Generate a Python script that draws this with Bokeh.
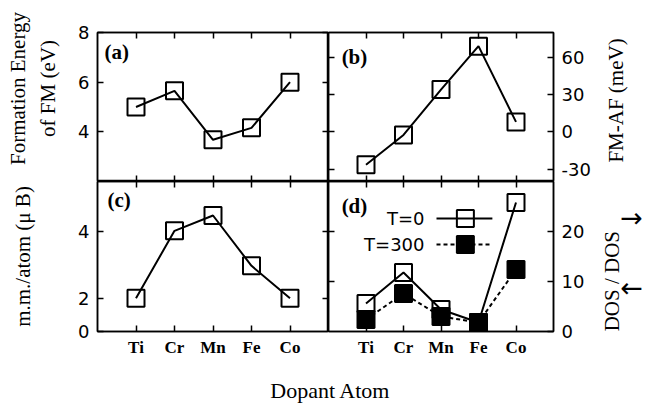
import math
from bokeh.plotting import figure
from bokeh.models import (Range1d, FixedTicker, LinearAxis, Label, ColumnDataSource)
from bokeh.layouts import column, row
from bokeh.embed import file_html
from bokeh.resources import INLINE

# ---------------- data ----------------
dopants = ["Ti", "Cr", "Mn", "Fe", "Co"]
xpos = [1, 2, 3, 4, 5]
formation_energy = [5.0, 5.65, 3.68, 4.16, 6.0]        # (a) eV
fm_af = [-26.5, -2.5, 34.0, 69.0, 8.0]                  # (b) meV
moment = [2.0, 4.02, 4.48, 2.97, 2.0]                   # (c) mu_B
dos_t0 = [5.6, 11.8, 4.4, 1.8, 25.8]                    # (d) T=0
dos_t300 = [2.4, 7.6, 3.0, 1.8, 12.4]                   # (d) T=300

yticks_a = [4, 6, 8]
yticks_b = [-30, 0, 30, 60]
yticks_b_labels = {-30: "-30"}
yticks_c = [1, 2, 4]
yticks_c_labels = {1: "0"}
yticks_d = [0, 10, 20]

NUM_FONT = "DejaVu Sans"
SERIF = "Liberation Serif"
NUM_SIZE = "18px"
LAB_SIZE = "21px"
UP = math.pi / 2

# layout sizes (page pixels)
STRIP_L = 64
BORDER_L = 33
FW_L, FW_R = 231, 225
BORDER_R = 42
TOP = 32
FH_T, FH_B = 149, 150
BOTTOM = 34
RX0 = STRIP_L + BORDER_L + FW_L + FW_R + BORDER_R      # 595
TOTAL_W = 645
ROW1_H = TOP + FH_T
ROW2_H = FH_B + BOTTOM
TITLE_H = 40


def base(fw, fh, yr, left, right, top, bottom):
    p = figure(frame_width=fw, frame_height=fh, x_range=Range1d(0, 6),
               y_range=Range1d(*yr), output_backend="svg", toolbar_location=None,
               x_axis_location=None, y_axis_location=None,
               min_border_left=left, min_border_right=right,
               min_border_top=top, min_border_bottom=bottom)
    p.grid.visible = False
    p.outline_line_color = "black"
    p.outline_line_width = 1.5
    p.background_fill_color = "white"
    p.border_fill_color = "white"
    return p


def strip(x0, x1, y0, y1):
    """blank figure whose data coordinates are page pixels (y downward)"""
    p = figure(frame_width=x1 - x0, frame_height=y1 - y0, x_range=Range1d(x0, x1),
               y_range=Range1d(y1, y0), output_backend="svg", toolbar_location=None,
               x_axis_location=None, y_axis_location=None, min_border=0)
    p.grid.visible = False
    p.outline_line_color = None
    return p


def add_axis(p, side, ticks, labels=False, kind="y", overrides=None):
    ax = LinearAxis(ticker=FixedTicker(ticks=ticks))
    ax.major_tick_in = 6
    ax.major_tick_out = 0
    ax.minor_tick_in = 0
    ax.minor_tick_out = 0
    ax.axis_line_color = "black"
    ax.axis_line_width = 1.5
    ax.major_tick_line_width = 1.5
    if labels:
        if kind == "x":
            ax.major_label_text_font = SERIF
            ax.major_label_text_font_style = "bold"
            ax.major_label_text_font_size = "17px"
            ax.major_label_standoff = 6
        else:
            ax.major_label_text_font = NUM_FONT
            ax.major_label_text_font_size = NUM_SIZE
            ax.major_label_standoff = 8
        ax.major_label_text_color = "black"
        if overrides:
            ax.major_label_overrides = overrides
    else:
        ax.major_label_text_font_size = "0px"
        ax.major_label_standoff = 0
        ax.major_label_text_alpha = 0
    p.add_layout(ax, side)
    return ax


def text_at(p, txt, x, y, angle=0.0, size=LAB_SIZE, font=SERIF, style="normal",
            align="center"):
    p.add_layout(Label(x=x, y=y, text=txt, text_font=font, text_font_style=style,
                       text_font_size=size, text_baseline="middle", text_align=align,
                       angle=angle, text_color="black"))


def series(p, y, dash="solid", fill=None):
    src = ColumnDataSource(dict(x=xpos, y=y))
    p.line("x", "y", source=src, line_color="black", line_width=2, line_dash=dash)
    p.scatter("x", "y", source=src, marker="square", size=17, line_color="black",
              line_width=2, fill_color=fill, fill_alpha=1 if fill else 0)


xlab = {i + 1: d for i, d in enumerate(dopants)}

# (a)
pa = base(FW_L, FH_T, (2, 8), BORDER_L, 0, TOP, 0)
add_axis(pa, "left", yticks_a, labels=True)
add_axis(pa, "right", yticks_a)
add_axis(pa, "above", xpos, kind="x")
add_axis(pa, "below", xpos, kind="x")
series(pa, formation_energy)
text_at(pa, "(a)", 0.18, 7.2, style="bold", align="left")

# (b)
pb = base(FW_R, FH_T, (-40, 80), 0, BORDER_R, TOP, 0)
add_axis(pb, "left", yticks_b)
add_axis(pb, "right", yticks_b, labels=True, overrides=yticks_b_labels)
add_axis(pb, "above", xpos, kind="x")
add_axis(pb, "below", xpos, kind="x")
series(pb, fm_af)
text_at(pb, "(b)", 0.35, 60, style="bold", align="left")

# (c)
pc = base(FW_L, FH_B, (1, 5.5), BORDER_L, 0, 0, BOTTOM)
add_axis(pc, "left", yticks_c, labels=True, overrides=yticks_c_labels)
add_axis(pc, "right", [2, 4])
add_axis(pc, "above", xpos, kind="x")
add_axis(pc, "below", xpos, labels=True, kind="x", overrides=xlab)
series(pc, moment)
text_at(pc, "(c)", 0.26, 4.96, style="bold", align="left")

# (d)
pd = base(FW_R, FH_B, (0, 30), 0, BORDER_R, 0, BOTTOM)
add_axis(pd, "left", [10, 20])
add_axis(pd, "right", yticks_d, labels=True)
add_axis(pd, "above", xpos, kind="x")
add_axis(pd, "below", xpos, labels=True, kind="x", overrides=xlab)
series(pd, dos_t0)
series(pd, dos_t300, dash="4 3", fill="black")
text_at(pd, "(d)", 0.35, 25.2, style="bold", align="left")

# legend for (d), drawn by hand (text left of sample)
LEG_TXT_X = 2.56
LEG_X0, LEG_X1, LEG_XM = 2.88, 4.37, 3.65
LEG_Y = [22.6, 17.4]
leg_names = ["T=0", "T=300"]
leg_dash = ["solid", "4 3"]
leg_fill = [None, "black"]
for name, yy, dsh, fl in zip(leg_names, LEG_Y, leg_dash, leg_fill):
    text_at(pd, name, LEG_TXT_X, yy, size=NUM_SIZE, font=NUM_FONT, align="right")
    pd.line([LEG_X0, LEG_X1], [yy, yy], line_color="black", line_width=2, line_dash=dsh)
    pd.scatter([LEG_XM], [yy], marker="square", size=17, line_color="black", line_width=2,
               fill_color=fl, fill_alpha=1 if fl else 0)

# vertical titles in strips (coordinates = page pixels)
lt = strip(0, STRIP_L, 0, ROW1_H)
text_at(lt, "Formation Energy", 17, 88, angle=UP)
text_at(lt, "of FM (eV)", 47, 88, angle=UP)

lb = strip(0, STRIP_L, ROW1_H, ROW1_H + ROW2_H)
text_at(lb, "m.m./atom (μ B)", 22, 256, angle=UP)

rt = strip(RX0, TOTAL_W, 0, ROW1_H)
text_at(rt, "FM-AF (meV)", 615, 100, angle=UP)

rb = strip(RX0, TOTAL_W, ROW1_H, ROW1_H + ROW2_H)
text_at(rb, "DOS  / DOS", 611, 278, angle=UP)
text_at(rb, "→", 631, 217, size="27px", font=NUM_FONT)
text_at(rb, "←", 631, 287, size="27px", font=NUM_FONT)

pe = strip(0, TOTAL_W, 0, TITLE_H)
text_at(pe, "Dopant Atom", 330, 25, size="22px")

grid = row(column(lt, lb), column(pa, pc), column(pb, pd), column(rt, rb))
layout = column(grid, pe)
open("out.html", "w").write(file_html(layout, INLINE))
